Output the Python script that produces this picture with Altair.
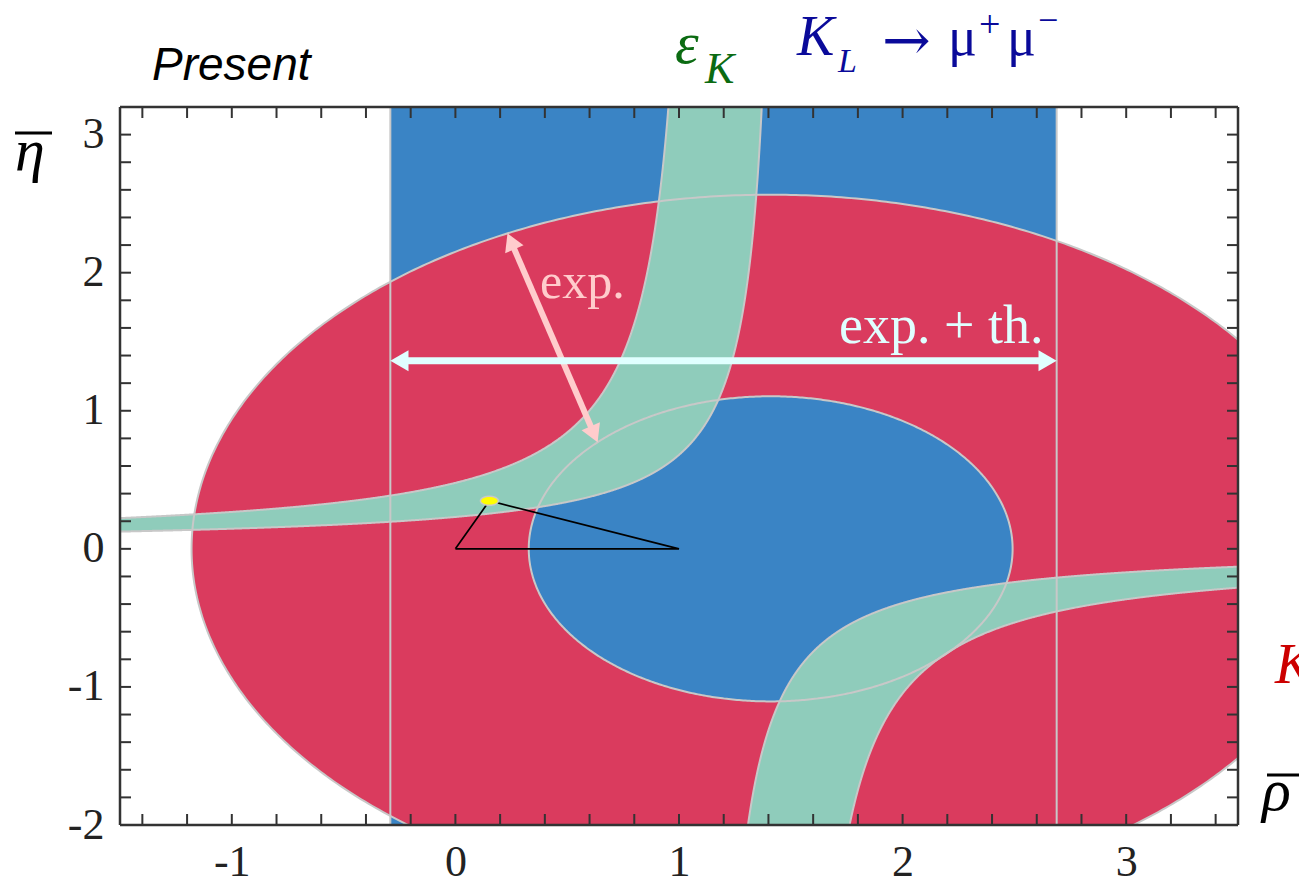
import math
import numpy as np
import pandas as pd
import altair as alt

# ---- plot geometry ---------------------------------------------------------
W, H = 1118, 718
PAD = {"left": 120, "top": 107, "right": 61, "bottom": 59}
RHO_DOMAIN = [-1.5, 3.5]
ETA_DOMAIN = [-2.0, 3.2]
PX_X = W / (RHO_DOMAIN[1] - RHO_DOMAIN[0])
PX_Y = H / (ETA_DOMAIN[1] - ETA_DOMAIN[0])

RHO_LABELS = [-1, 0, 1, 2, 3]
ETA_LABELS = [-2, -1, 0, 1, 2, 3]
RHO_TICKS = [round(-1.4 + 0.2 * i, 1) for i in range(25)]
ETA_TICKS = [round(-1.8 + 0.2 * i, 1) for i in range(25)]

# ---- colours ---------------------------------------------------------------
RED = "#DA3B5E"
BLUE = "#3A84C5"
GREEN = "#8FCCBB"
EDGE = "#C8C8C8"
FRAME = "#333333"
PINK = "#FFCCCC"
CYAN = "#E0FFFF"

# ---- constraints -------------------------------------------------------------
KL_BAND = [-0.291, 2.689]          # K_L -> mu+ mu- : allowed rho interval
KP_CENTER = [1.41, 0.0]            # K+ -> pi+ nu nubar ring centre
KP_OUTER = [2.59, 2.565]           # outer edge semi-axes (rho, eta)
KP_INNER = [1.082, 1.105]          # inner edge semi-axes (rho, eta)
# eps_K band edges, eta = eta0 + k / (rho_c - rho), stored as (rho_c, k, eta0)
EPS_UPPER_LEFT = [1.108, 0.492, 0.034]
EPS_UPPER_RIGHT = [1.467, 0.308, 0.021]
EPS_LOWER_LEFT = [1.130, 0.361, 0.023]
EPS_LOWER_RIGHT = [1.510, 0.498, -0.031]
APEX = [0.152, 0.348]              # fitted apex (rho, eta)
APEX_AXES = [0.040, 0.033]         # its small error ellipse
EXP_ARROW_RHO = [0.233, 0.636]     # "exp." arrow: outer edge -> inner edge
EXP_TH_ARROW_ETA = 1.362           # "exp. + th." arrow height

ETA_HI, ETA_LO = 3.6, -2.6
RHO_LO, RHO_HI = -1.7, 3.7


def edge(p, rho):
    rc, k, e0 = p
    with np.errstate(divide="ignore", invalid="ignore"):
        return e0 + k / (rc - np.asarray(rho, dtype=float))


def edge_rho(p, eta):
    rc, k, e0 = p
    return rc - k / (np.asarray(eta, dtype=float) - e0)


def grid(lo, hi, *extra):
    g = np.concatenate([np.linspace(lo, hi, 900)] + [np.atleast_1d(e) for e in extra])
    g = g[(g >= lo) & (g <= hi)]
    return np.unique(g)


# upper eps_K branch
up_end = float(edge_rho(EPS_UPPER_RIGHT, ETA_HI))
up_cap = float(edge_rho(EPS_UPPER_LEFT, ETA_HI))
etas_up = np.linspace(0.3, ETA_HI, 400)
g_up = grid(RHO_LO, up_end, edge_rho(EPS_UPPER_LEFT, etas_up),
            edge_rho(EPS_UPPER_RIGHT, etas_up), up_cap)
upper_band = pd.DataFrame({
    "rho": g_up,
    "eta": edge(EPS_UPPER_RIGHT, g_up),
    "eta2": np.where(g_up < up_cap,
                     np.minimum(edge(EPS_UPPER_LEFT, g_up), ETA_HI), ETA_HI),
})

# lower eps_K branch
lo_start = float(edge_rho(EPS_LOWER_LEFT, ETA_LO))
lo_cap = float(edge_rho(EPS_LOWER_RIGHT, ETA_LO))
etas_lo = np.linspace(ETA_LO, -0.1, 400)
g_lo = grid(lo_start, RHO_HI, edge_rho(EPS_LOWER_LEFT, etas_lo),
            edge_rho(EPS_LOWER_RIGHT, etas_lo), lo_cap)
lower_band = pd.DataFrame({
    "rho": g_lo,
    "eta": np.where(g_lo > lo_cap,
                    np.maximum(edge(EPS_LOWER_RIGHT, g_lo), ETA_LO), ETA_LO),
    "eta2": edge(EPS_LOWER_LEFT, g_lo),
})


def ellipse_fill(c, axes, n=600):
    t = np.linspace(np.pi, 0, n)
    h = axes[1] * np.sin(t)
    return pd.DataFrame({"rho": c[0] + axes[0] * np.cos(t),
                         "eta": c[1] - h, "eta2": c[1] + h})


def ellipse_line(c, axes, n=721):
    t = np.linspace(0, 2 * np.pi, n)
    return c[0] + axes[0] * np.cos(t), c[1] + axes[1] * np.sin(t)


curves = []


def add_curve(name, rho, eta):
    curves.append(pd.DataFrame({"rho": rho, "eta": eta, "curve": name,
                                "step": np.arange(len(rho))}))


add_curve("kp_outer", *ellipse_line(KP_CENTER, KP_OUTER))
add_curve("kp_inner", *ellipse_line(KP_CENTER, KP_INNER))
g = g_up[g_up <= up_cap]
add_curve("eps_ul", g, edge(EPS_UPPER_LEFT, g))
add_curve("eps_ur", g_up, edge(EPS_UPPER_RIGHT, g_up))
add_curve("eps_ll", g_lo, edge(EPS_LOWER_LEFT, g_lo))
g = g_lo[g_lo >= lo_cap]
add_curve("eps_lr", g, edge(EPS_LOWER_RIGHT, g))
outlines = pd.concat(curves, ignore_index=True)

band = pd.DataFrame({"rho": [KL_BAND[0]], "rho2": [KL_BAND[1]]})
band_edges = pd.DataFrame({"rho": KL_BAND})

triangle = pd.DataFrame({"rho": [0.0, APEX[0], 1.0, 0.0],
                         "eta": [0.0, APEX[1], 0.0, 0.0],
                         "step": [0, 1, 2, 3]})
apex_fill = ellipse_fill(APEX, APEX_AXES, 200)
ax_r, ax_e = ellipse_line(APEX, APEX_AXES, 181)
apex_line = pd.DataFrame({"rho": ax_r, "eta": ax_e, "step": np.arange(len(ax_r))})


def on_ellipse(axes, rho):
    u = (rho - KP_CENTER[0]) / axes[0]
    return KP_CENTER[1] + axes[1] * math.sqrt(1 - u * u)


def arrow_parts(p0, p1, size):
    dx = (p1[0] - p0[0]) * PX_X
    dy = -(p1[1] - p0[1]) * PX_Y
    L = math.hypot(dx, dy)
    ux, uy = dx / L, dy / L
    h = math.sqrt(3) / 2 * math.sqrt(size) / 2
    br, be = ux * h / PX_X, -uy * h / PX_Y
    c0 = (p0[0] + br, p0[1] + be)
    c1 = (p1[0] - br, p1[1] - be)
    a1 = math.degrees(math.atan2(ux, -uy)) % 360
    a0 = (a1 + 180) % 360
    shaft = pd.DataFrame({"rho": [c0[0], c1[0]], "eta": [c0[1], c1[1]], "step": [0, 1]})
    heads = pd.DataFrame({"rho": [c0[0], c1[0]], "eta": [c0[1], c1[1]], "angle": [a0, a1]})
    return shaft, heads


exp_p0 = (EXP_ARROW_RHO[0], on_ellipse(KP_OUTER, EXP_ARROW_RHO[0]))
exp_p1 = (EXP_ARROW_RHO[1], on_ellipse(KP_INNER, EXP_ARROW_RHO[1]))
exp_shaft, exp_heads = arrow_parts(exp_p0, exp_p1, 400)
th_shaft, th_heads = arrow_parts((KL_BAND[0], EXP_TH_ARROW_ETA),
                                 (KL_BAND[1], EXP_TH_ARROW_ETA), 440)

# ---- encodings ---------------------------------------------------------------
AX_X = alt.Axis(values=RHO_LABELS, ticks=False, domain=False, grid=False,
                labelFont="Liberation Serif", labelFontSize=44, labelColor="#222222",
                labelPadding=15, labelExpr="'' + datum.value", labelFlush=False,
                labelOverlap=False, title=None)
AX_Y = alt.Axis(values=ETA_LABELS, ticks=False, domain=False, grid=False,
                labelFont="Liberation Serif", labelFontSize=44, labelColor="#222222",
                labelPadding=16, labelExpr="'' + datum.value", labelFlush=False,
                labelOverlap=False, title=None)
SX = alt.Scale(domain=RHO_DOMAIN, nice=False, zero=False)
SY = alt.Scale(domain=ETA_DOMAIN, nice=False, zero=False)
X = alt.X("rho:Q", scale=SX, axis=AX_X)
Y = alt.Y("eta:Q", scale=SY, axis=AX_Y)
Y2 = alt.Y2("eta2:Q")

layers = []

# K_L -> mu mu band
layers.append(alt.Chart(band).mark_rect(color=BLUE, clip=True).encode(
    x=X, x2=alt.X2("rho2:Q"), y=alt.value(0), y2=alt.value(H)))
# K+ -> pi nu nu ring
layers.append(alt.Chart(ellipse_fill(KP_CENTER, KP_OUTER)).mark_area(
    color=RED, clip=True, orient="vertical").encode(x=X, y=Y, y2=Y2))
layers.append(alt.Chart(ellipse_fill(KP_CENTER, KP_INNER)).mark_area(
    color=BLUE, clip=True, orient="vertical").encode(x=X, y=Y, y2=Y2))
# eps_K band
for df in (upper_band, lower_band):
    layers.append(alt.Chart(df).mark_area(color=GREEN, clip=True, orient="vertical")
                  .encode(x=X, y=Y, y2=Y2))
# edges
layers.append(alt.Chart(outlines).mark_line(color=EDGE, strokeWidth=2, clip=True)
              .encode(x=X, y=Y, detail="curve:N", order="step:Q"))
layers.append(alt.Chart(band_edges).mark_rule(color=EDGE, strokeWidth=2, clip=True)
              .encode(x=X))
# unitarity triangle and apex
layers.append(alt.Chart(triangle).mark_line(color="black", strokeWidth=1.7, clip=True)
              .encode(x=X, y=Y, order="step:Q"))
layers.append(alt.Chart(apex_fill).mark_area(color="#FFFF00", orient="vertical")
              .encode(x=X, y=Y, y2=Y2))
layers.append(alt.Chart(apex_line).mark_line(color=EDGE, strokeWidth=1.5)
              .encode(x=X, y=Y, order="step:Q"))
# arrows
for shaft, heads, col, sw, sz in ((exp_shaft, exp_heads, PINK, 6, 400),
                                  (th_shaft, th_heads, CYAN, 7, 440)):
    layers.append(alt.Chart(shaft).mark_line(color=col, strokeWidth=sw, strokeCap="butt")
                  .encode(x=X, y=Y, order="step:Q"))
    layers.append(alt.Chart(heads).mark_point(shape="triangle-up", filled=True, size=sz,
                                              color=col, opacity=1, strokeWidth=0)
                  .encode(x=X, y=Y, angle=alt.Angle("angle:Q", scale=None)))

# ticks on all four sides, pointing inwards
TL = 11
xt = pd.DataFrame({"rho": RHO_TICKS})
yt = pd.DataFrame({"eta": ETA_TICKS})
tick = dict(color=FRAME, strokeWidth=2)
layers.append(alt.Chart(xt).mark_rule(**tick).encode(x=X, y=alt.value(H), y2=alt.value(H - TL)))
layers.append(alt.Chart(xt).mark_rule(**tick).encode(x=X, y=alt.value(0), y2=alt.value(TL)))
layers.append(alt.Chart(yt).mark_rule(**tick).encode(y=Y, x=alt.value(0), x2=alt.value(TL)))
layers.append(alt.Chart(yt).mark_rule(**tick).encode(y=Y, x=alt.value(W), x2=alt.value(W - TL)))

one = pd.DataFrame({"a": [0]})


def rule_px(x0, x1, y0, y1, color, width):
    return alt.Chart(one).mark_rule(color=color, strokeWidth=width).encode(
        x=alt.value(x0), x2=alt.value(x1), y=alt.value(y0), y2=alt.value(y1))


# frame
for args in ((0, W, 0, 0), (0, W, H, H), (0, 0, 0, H), (W, W, 0, H)):
    layers.append(rule_px(*args, FRAME, 2.5))


def label(text, px, py, size, color="black", italic=True, font="Liberation Serif",
          baseline="alphabetic"):
    return alt.Chart(one).mark_text(
        text=text, font=font, fontSize=size, color=color, align="left",
        baseline=baseline, fontStyle="italic" if italic else "normal").encode(
        x=alt.value(px), y=alt.value(py))


# in-plot annotations
layers.append(label("exp.", 420, 191, 50, PINK, italic=False))
layers.append(label("exp. + th.", 719, 236, 54, CYAN, italic=False))

# titles and axis names
GREEN_TXT = "#0B6B12"
NAVY = "#0A0A9A"
layers += [
    label("Present", 32, -27, 46, font="Liberation Sans"),
    label("ε", 555, -44, 60, GREEN_TXT),
    label("K", 585, -24, 44, GREEN_TXT),
    label("K", 677, -52, 56, NAVY),
    label("L", 718, -35, 34, NAVY),
    label("→", 762, -64, 58, NAVY, italic=False, font="DejaVu Serif", baseline="middle"),
    label("μ", 828, -52, 54, NAVY, italic=False),
    label("+", 859, -81, 38, NAVY, italic=False, baseline="middle"),
    label("μ", 887, -52, 54, NAVY, italic=False),
    label("−", 918, -86, 36, NAVY, italic=False, baseline="middle"),
    label("K", 1155, 576, 56, "#CC0000"),
    label("η", -105, 63, 60),
    rule_px(-105, -68, 26, 26, "black", 3),
    label("ρ", 1142, 703, 60),
    rule_px(1147, 1181, 668, 668, "black", 3),
]

chart = alt.layer(*layers).properties(
    width=W, height=H, padding=PAD,
    autosize=alt.AutoSizeParams(type="none"),
).configure_view(stroke=None)

chart.save("out.html", embed_options={"renderer": "svg", "actions": False})
